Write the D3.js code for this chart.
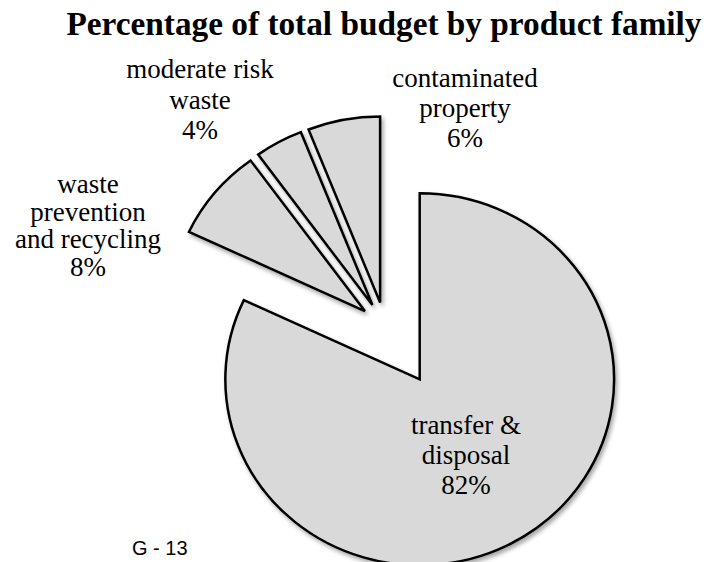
<!DOCTYPE html>
<html>
<head>
<meta charset="utf-8">
<script src="https://cdn.jsdelivr.net/npm/d3@7"></script>
<style>
  html, body { margin: 0; padding: 0; background: #ffffff; }
  svg { display: block; }
  .serif { font-family: "Liberation Serif", "Times New Roman", serif; }
  .sans { font-family: "Liberation Sans", Arial, sans-serif; }
</style>
</head>
<body>
<svg id="chart" width="709" height="562"></svg>
<script>
// ---- data ----
const categories = ["transfer & disposal", "waste prevention and recycling", "moderate risk waste", "contaminated property"];
const labelLines = [["transfer &", "disposal"], ["waste", "prevention", "and recycling"], ["moderate risk", "waste"], ["contaminated", "property"]];
const values = [82, 8, 4, 6];
const titleText = "Percentage of total budget by product family";
const footerText = "G - 13";

// ---- layout ----
const W = 709, H = 562;
const center = { x: 385, y: 327 };
const radius = 186;
const xStretch = 1.045;
const explode = [62, 25, 25, 25];
const labelPos = [
  { x: 466, y: 434, dy: 30 },
  { x: 88, y: 193, dy: 27.5 },
  { x: 200, y: 78, dy: 30.5 },
  { x: 465, y: 87, dy: 30 }
];

const svg = d3.select("#chart");

const defs = svg.append("defs");
const f = defs.append("filter").attr("id", "shadow")
  .attr("x", "-20%").attr("y", "-20%").attr("width", "140%").attr("height", "140%");
f.append("feDropShadow").attr("dx", 2).attr("dy", 3).attr("stdDeviation", 2)
  .attr("flood-color", "#000").attr("flood-opacity", 0.35);

svg.append("rect").attr("width", W).attr("height", H).attr("fill", "#ffffff");

// title
svg.append("text")
  .attr("class", "serif")
  .attr("x", 384).attr("y", 35)
  .attr("text-anchor", "middle")
  .style("font-weight", "bold")
  .style("font-size", "33.3px")
  .attr("fill", "#000")
  .text(titleText);

const data = categories.map((c, i) => ({ name: c, value: values[i], lines: labelLines[i] }));

const pie = d3.pie().sort(null).value(d => d.value).startAngle(0).endAngle(2 * Math.PI);
const arc = d3.arc().innerRadius(0).outerRadius(radius);
const arcs = pie(data);

const g = svg.append("g")
  .attr("transform", `translate(${center.x},${center.y}) scale(${xStretch},1)`);

g.selectAll("path.slice")
  .data(arcs)
  .enter()
  .append("path")
  .attr("class", "slice")
  .attr("transform", (d, i) => {
    const mid = (d.startAngle + d.endAngle) / 2;
    const dx = Math.sin(mid) * explode[i];
    const dy = -Math.cos(mid) * explode[i];
    return `translate(${dx},${dy})`;
  })
  .attr("d", arc)
  .attr("fill", "#d9d9d9")
  .attr("stroke", "#000")
  .attr("stroke-width", 2.5)
  .attr("stroke-linejoin", "miter")
  .attr("vector-effect", "non-scaling-stroke")
  .attr("filter", "url(#shadow)");

// labels
data.forEach((d, i) => {
  const p = labelPos[i];
  const lines = d.lines.concat([d3.format("d")(d.value) + "%"]);
  const t = svg.append("text")
    .attr("class", "serif")
    .attr("x", p.x).attr("y", p.y)
    .attr("text-anchor", "middle")
    .style("font-size", "27px")
    .attr("fill", "#000");
  lines.forEach((ln, k) => {
    t.append("tspan").attr("class", "serif").attr("x", p.x).attr("y", p.y + k * p.dy).text(ln);
  });
});

// footer
svg.append("text")
  .attr("class", "sans")
  .attr("x", 132).attr("y", 555)
  .style("font-size", "20px")
  .attr("fill", "#000")
  .text(footerText);
</script>
</body>
</html>
